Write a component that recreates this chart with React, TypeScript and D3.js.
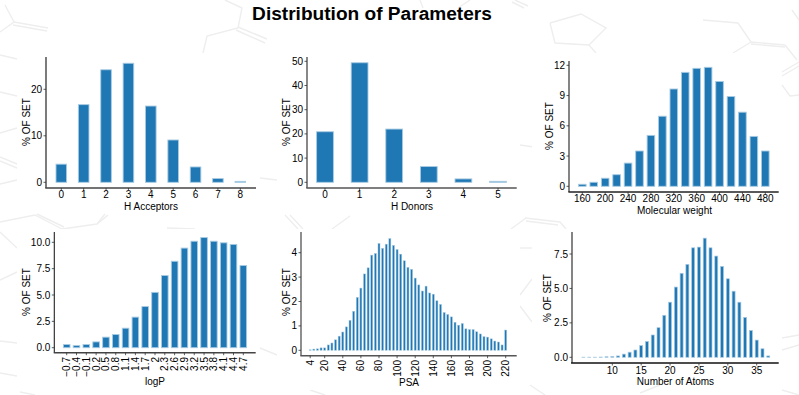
import React from "react";
import * as d3 from "d3";

const title = "Distribution of Parameters";

const acceptorBins = [0, 1, 2, 3, 4, 5, 6, 7, 8];
const acceptorValues = [3.9, 16.7, 24.2, 25.6, 16.4, 9.1, 3.3, 0.8, 0.2];
const donorBins = [0, 1, 2, 3, 4, 5];
const donorValues = [20.9, 49.4, 22, 6.5, 1.4, 0.4];
const weightBins = [160, 180, 200, 220, 240, 260, 280, 300, 320, 340, 360, 380, 400, 420, 440, 460, 480];
const weightValues = [0.2, 0.4, 0.8, 1.15, 2.3, 3.5, 5.05, 6.95, 9.65, 11.3, 11.7, 11.8, 10.4, 8.9, 7.35, 4.95, 3.5];
const logPBins = [-0.7, -0.4, -0.1, 0.2, 0.5, 0.8, 1.1, 1.4, 1.7, 2, 2.3, 2.6, 2.9, 3.2, 3.5, 3.8, 4.1, 4.4, 4.7];
const logPValues = [0.3, 0.2, 0.3, 0.55, 1, 1.25, 1.85, 2.9, 3.9, 5.25, 6.85, 8.2, 9.45, 10.1, 10.45, 10.1, 9.95, 9.8, 7.8];
const psaBins = [4, 8, 12, 16, 20, 24, 28, 32, 36, 40, 44, 48, 52, 56, 60, 64, 68, 72, 76, 80, 84, 88, 92, 96, 100, 104, 108, 112, 116, 120, 124, 128, 132, 136, 140, 144, 148, 152, 156, 160, 164, 168, 172, 176, 180, 184, 188, 192, 196, 200, 204, 208, 212, 216, 220];
const psaValues = [0.02, 0.05, 0.06, 0.1, 0.1, 0.22, 0.3, 0.43, 0.58, 0.75, 0.96, 1.23, 1.6, 2.17, 2.55, 3.13, 3.38, 3.9, 3.97, 4.38, 4.18, 4.35, 4.58, 4.3, 4.13, 3.94, 3.67, 3.4, 3.32, 2.96, 2.68, 2.43, 2.63, 2.35, 2.3, 2.03, 1.88, 1.55, 1.47, 1.37, 1.15, 1.03, 1.1, 0.88, 0.85, 0.85, 0.76, 0.67, 0.56, 0.54, 0.47, 0.38, 0.34, 0.22, 0.83];
const atomBins = [5, 6, 7, 8, 9, 10, 11, 12, 13, 14, 15, 16, 17, 18, 19, 20, 21, 22, 23, 24, 25, 26, 27, 28, 29, 30, 31, 32, 33, 34, 35, 36, 37];
const atomValues = [0.01, 0.01, 0.01, 0.02, 0.04, 0.06, 0.1, 0.23, 0.37, 0.53, 0.85, 1.15, 1.62, 2.15, 3.05, 4, 5.1, 6.1, 6.75, 7.95, 8, 8.65, 7.95, 7.35, 6.6, 5.7, 4.8, 4, 2.9, 1.95, 1.25, 0.62, 0.1];

const acceptorXTicks = acceptorBins;
const donorXTicks = donorBins;
const weightXTicks = [160, 200, 240, 280, 320, 360, 400, 440, 480];
const logPXTicks = logPBins;
const psaXTicks = [4, 20, 40, 60, 80, 100, 120, 140, 160, 180, 200, 220];
const atomXTicks = [10, 15, 20, 25, 30, 35];
const acceptorYTicks = [0, 10, 20];
const donorYTicks = [0, 10, 20, 30, 40, 50];
const weightYTicks = [0, 3, 6, 9, 12];
const logPYTicks = [0, 2.5, 5, 7.5, 10];
const psaYTicks = [0, 1, 2, 3, 4];
const atomYTicks = [0, 2.5, 5, 7.5];

const BAR = "#1f77b4";
const EDGE = "#a8cbe2";
const FONT = "'Liberation Sans', Arial, sans-serif";

// Faint molecule watermark behind the panels
const watermark: [number, number][][] = [
  [[5, 5], [14, 22], [0, 32]], [[14, 22], [48, 28]], [[13, 25], [47, 31]],
  [[225, 0], [242, 8], [238, 28], [207, 36], [203, 53]], [[238, 27], [267, 39]], [[236, 30], [265, 43]],
  [[515, 0], [528, 6]], [[512, 2], [524, 8]], [[420, 0], [423, 8]], [[470, 0], [458, 8]],
  [[550, 23], [581, 14], [606, 28], [589, 45], [555, 43], [550, 23]], [[589, 45], [596, 53]],
  [[703, 20], [738, 23], [751, 42], [785, 45]], [[751, 44], [785, 47]], [[751, 42], [733, 53]], [[785, 45], [797, 60]], [[792, 10], [799, 20]],
  [[0, 55], [17, 59]], [[0, 92], [17, 96]], [[0, 133], [17, 128]], [[0, 157], [17, 164]], [[0, 161], [17, 168]], [[0, 184], [17, 180]],
  [[520, 145], [534, 147]], [[260, 178], [277, 180]], [[782, 72], [799, 62]], [[782, 76], [799, 66]], [[782, 85], [790, 96], [799, 95]],
  [[0, 222], [35, 215], [62, 229]], [[37, 214], [64, 227]], [[62, 229], [97, 224], [108, 215]], [[97, 224], [105, 214]],
  [[167, 228], [195, 229]], [[285, 215], [298, 229]], [[290, 215], [303, 229]], [[332, 229], [350, 216]],
  [[525, 218], [560, 222], [566, 229]], [[526, 221], [558, 225]], [[511, 229], [526, 218]],
  [[0, 232], [17, 248]], [[0, 280], [17, 272]], [[0, 341], [17, 343]], [[0, 373], [17, 376]],
  [[260, 348], [277, 355]], [[520, 248], [532, 248]], [[520, 295], [532, 279]], [[520, 306], [532, 322]],
  [[782, 338], [799, 335]], [[782, 350], [799, 345]], [[782, 390], [799, 395]], [[530, 385], [545, 395]], [[640, 393], [660, 385]], [[20, 392], [35, 395]], [[310, 390], [325, 395]],
];

const whitePanels = [
  [17, 53, 242, 152], [277, 53, 243, 152], [532, 53, 249, 152],
  [17, 229, 243, 156], [277, 229, 243, 161], [532, 229, 249, 156],
];

type PanelProps = {
  bins: number[]; values: number[]; xTicks: number[]; yTicks: number[];
  xLabel: string; axisLeft: number; axisRight: number; axisTop: number; axisBottom: number;
  xFirst: number; xLast: number; xDomain: [number, number]; y0: number; yAtTop: number; yTop: number;
  barWidth: number; edgeWidth: number; rotate?: boolean; yFormat: (v: number) => string; labelX: number; labelY: number;
  xLabelY: number; xLabelX: number; tickY: number; leftColor: string; bottomColor: string; leftW: number;
};

function Panel(p: PanelProps) {
  const x = d3.scaleLinear().domain(p.xDomain).range([p.xFirst, p.xLast]);
  const y = d3.scaleLinear().domain([0, p.yTop]).range([p.y0, p.yAtTop]);
  return (
    <g fontFamily={FONT} fontSize={10} fill="#000">
      {p.bins.map((b, i) => {
        const h = p.y0 - y(p.values[i]);
        return (
          <rect key={b} x={x(b) - p.barWidth / 2} y={y(p.values[i])} width={p.barWidth} height={h}
            fill={BAR} stroke={EDGE} strokeWidth={p.edgeWidth} />
        );
      })}
      <line x1={p.axisLeft} x2={p.axisLeft} y1={p.axisTop} y2={p.axisBottom} stroke={p.leftColor} strokeWidth={p.leftW} />
      <line x1={p.axisLeft - p.leftW / 2} x2={p.axisRight} y1={p.axisBottom} y2={p.axisBottom} stroke={p.bottomColor} strokeWidth={1.4} />
      {p.yTicks.map((t) => (
        <g key={t}>
          <line x1={p.axisLeft - 2.5} x2={p.axisLeft} y1={y(t)} y2={y(t)} stroke="#333" strokeWidth={0.8} />
          <text x={p.axisLeft - 4} y={y(t) + 3.5} textAnchor="end">{p.yFormat(t)}</text>
        </g>
      ))}
      {p.xTicks.map((t) => (
        <g key={t}>
          <line x1={x(t)} x2={x(t)} y1={p.axisBottom} y2={p.axisBottom + 2.5} stroke="#333" strokeWidth={0.8} />
          {p.rotate ? (
            <text transform={`translate(${x(t) + 3.5},${p.tickY}) rotate(-90)`} textAnchor="end">
              {String(t).replace("-", "\u2212")}
            </text>
          ) : (
            <text x={x(t)} y={p.tickY} textAnchor="middle">{t}</text>
          )}
        </g>
      ))}
      <text x={p.xLabelX} y={p.xLabelY} textAnchor="middle">{p.xLabel}</text>
      <text transform={`translate(${p.labelX},${p.labelY}) rotate(-90)`} textAnchor="middle">% OF SET</text>
    </g>
  );
}

const fmtInt = (v: number) => String(v);
const fmtOne = (v: number) => v.toFixed(1);
const line = d3.line();

export default function App() {
  return (
    <svg width={799} height={395} style={{ position: "absolute", left: 0, top: 0, background: "#fff" }}>
      {watermark.map((w, i) => (
        <path key={i} d={line(w) || ""} fill="none" stroke="#eeeeee" strokeWidth={1.4} />
      ))}
      {whitePanels.map((r, i) => (
        <rect key={i} x={r[0]} y={r[1]} width={r[2]} height={r[3]} fill="#fff" />
      ))}
      <text x={372} y={20} textAnchor="middle" fontFamily={FONT} fontWeight="bold" fontSize={19.1} fill="#000">{title}</text>
      <Panel bins={acceptorBins} values={acceptorValues} xTicks={acceptorXTicks} yTicks={acceptorYTicks} xLabel="H Acceptors"
        axisLeft={46} axisRight={256} axisTop={57} axisBottom={188} xFirst={61.3} xLast={240.3} xDomain={[0, 8]}
        y0={182.3} yAtTop={89.3} yTop={20} barWidth={10.6} edgeWidth={0.9} yFormat={fmtInt} labelX={30} labelY={122}
        xLabelX={151} xLabelY={209.5} tickY={198} leftColor="#444" bottomColor="#444" leftW={1.4} />
      <Panel bins={donorBins} values={donorValues} xTicks={donorXTicks} yTicks={donorYTicks} xLabel="H Donors"
        axisLeft={307} axisRight={516.7} axisTop={57} axisBottom={188} xFirst={325} xLast={498} xDomain={[0, 5]}
        y0={182.3} yAtTop={61.3} yTop={50} barWidth={16.8} edgeWidth={0.9} yFormat={fmtInt} labelX={290} labelY={122}
        xLabelX={412} xLabelY={209.5} tickY={198} leftColor="#555" bottomColor="#555" leftW={1.4} />
      <Panel bins={weightBins} values={weightValues} xTicks={weightXTicks} yTicks={weightYTicks} xLabel="Molecular weight"
        axisLeft={569} axisRight={778.7} axisTop={61} axisBottom={192} xFirst={582.3} xLast={765.3} xDomain={[160, 480]}
        y0={186.3} yAtTop={65.3} yTop={12} barWidth={7.6} edgeWidth={0.9} yFormat={fmtInt} labelX={553} labelY={126}
        xLabelX={674.5} xLabelY={213.5} tickY={202} leftColor="#333" bottomColor="#222" leftW={1.2} />
      <Panel bins={logPBins} values={logPValues} xTicks={logPXTicks} yTicks={logPYTicks} xLabel="logP"
        axisLeft={54.3} axisRight={255.7} axisTop={232} axisBottom={352.7} xFirst={66.7} xLast={243.3} xDomain={[-0.7, 4.7]}
        y0={347.7} yAtTop={242.3} yTop={10} barWidth={6.6} edgeWidth={0.9} rotate yFormat={fmtOne} labelX={30} labelY={292}
        xLabelX={155} xLabelY={385} tickY={357} leftColor="#222" bottomColor="#444" leftW={1.1} />
      <Panel bins={psaBins} values={psaValues} xTicks={psaXTicks} yTicks={psaYTicks} xLabel="PSA"
        axisLeft={301} axisRight={516.7} axisTop={232} axisBottom={355.7} xFirst={310.2} xLast={505.7} xDomain={[4, 220]}
        y0={350.3} yAtTop={252.7} yTop={4} barWidth={2} edgeWidth={0.5} rotate yFormat={fmtInt} labelX={290} labelY={292}
        xLabelX={409} xLabelY={385.5} tickY={360} leftColor="#444" bottomColor="#555" leftW={1.2} />
      <Panel bins={atomBins} values={atomValues} xTicks={atomXTicks} yTicks={atomYTicks} xLabel="Number of Atoms"
        axisLeft={572} axisRight={778.7} axisTop={232} axisBottom={363} xFirst={612.3} xLast={756.7} xDomain={[10, 35]}
        y0={357.3} yAtTop={254} yTop={7.5} barWidth={3} edgeWidth={0.7} yFormat={fmtOne} labelX={551} labelY={298}
        xLabelX={675.5} xLabelY={385} tickY={374} leftColor="#777" bottomColor="#111" leftW={1.8} />
    </svg>
  );
}
